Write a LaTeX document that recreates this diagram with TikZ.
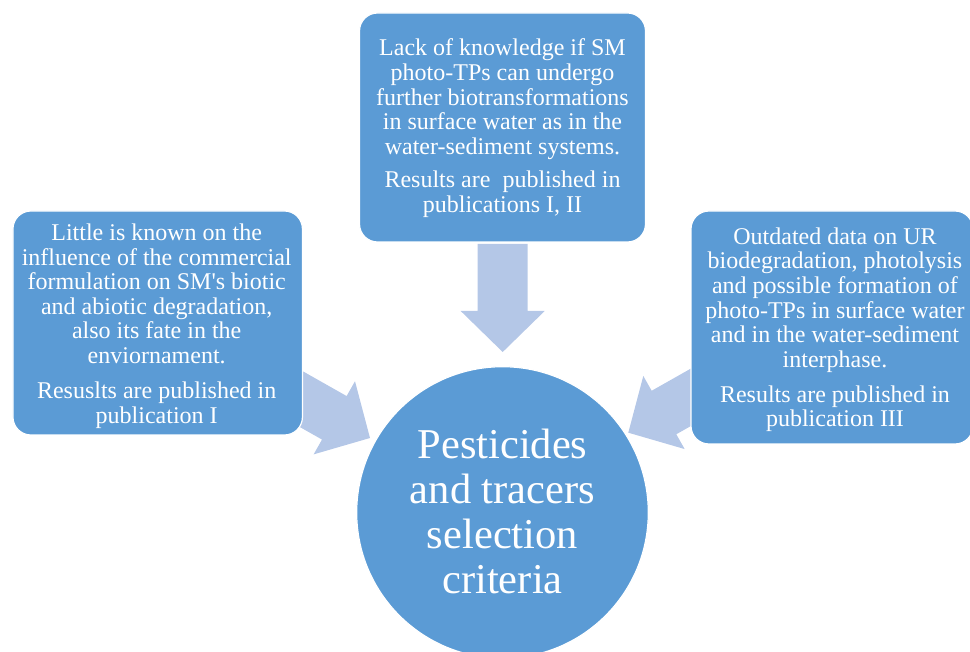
\documentclass[tikz,border=0pt]{standalone}
\usepackage{fontspec}
\setmainfont{Liberation Serif}
\definecolor{boxblue}{HTML}{5B9BD5}
\definecolor{arrowblue}{HTML}{B4C7E7}
\begin{document}
\begin{tikzpicture}[x=1pt,y=-1pt,
  box/.style={fill=boxblue, draw=white, line width=1.2pt, rounded corners=18pt, inner sep=0pt},
  bigarrow/.style={fill=arrowblue, draw=none},
  boxtext/.style={text=white, align=center, font=\fontsize{24}{24.6}\selectfont, inner sep=0pt},
  crittextstyle/.style={text=white, align=center, font=\fontsize{42.5}{44.7}\selectfont, inner sep=0pt}
]
\useasboundingbox (0,0) rectangle (970,652);
\clip (0,0) rectangle (970,652);
% block arrows (tip at local origin, pointing along +x)
\begin{scope}[shift={(502.7,352)}, rotate=-90]
  \fill[bigarrow] (-108,-25) -- (-41,-25) -- (-41,-42) -- (0,0) -- (-41,42) -- (-41,25) -- (-108,25) -- cycle;
\end{scope}
\begin{scope}[shift={(370,438)}, rotate=-29.5]
  \fill[bigarrow] (-108,-25) -- (-41,-25) -- (-41,-42) -- (0,0) -- (-41,42) -- (-41,25) -- (-108,25) -- cycle;
\end{scope}
\begin{scope}[shift={(628.3,432.7)}, rotate=-150.5]
  \fill[bigarrow] (-108,-25) -- (-41,-25) -- (-41,-42) -- (0,0) -- (-41,42) -- (-41,25) -- (-108,25) -- cycle;
\end{scope}
% boxes
\node[box, minimum width=286pt, minimum height=229pt] (topbox) at (502.5,127.5) {};
\node[box, minimum width=289.5pt, minimum height=224pt] (leftbox) at (157.7,323) {};
\node[box, minimum width=282pt, minimum height=233pt] (rightbox) at (832,327.5) {};
\node[circle, fill=boxblue, draw=white, line width=1.2pt, minimum size=291.6pt, inner sep=0pt] (crit) at (502.5,512.5) {};
% texts
\node[boxtext] (toptext) at (502.5,128.2) {Lack of knowledge if SM\\photo-TPs can undergo\\further biotransformations\\in surface water as in the\\water-sediment systems.\\[8.8pt]Results are~ published in\\publications I, II};
\node[boxtext] (lefttext) at (156.7,326) {Little is known on the\\influence of the commercial\\formulation on SM\textquotesingle s biotic\\and abiotic degradation,\\also its fate in the\\enviornament.\\[10.4pt]Resuslts are published in\\publication I};
\node[boxtext] (righttext) at (835,329.8) {Outdated data on UR\\biodegradation, photolysis\\and possible formation of\\photo-TPs in surface water\\and in the water-sediment\\interphase.\\[10.2pt]Results are published in\\publication III};
\node[crittextstyle] (crittext) at (502.5,511.5) {Pesticides\\and tracers\\selection\\criteria};
\end{tikzpicture}
\end{document}
